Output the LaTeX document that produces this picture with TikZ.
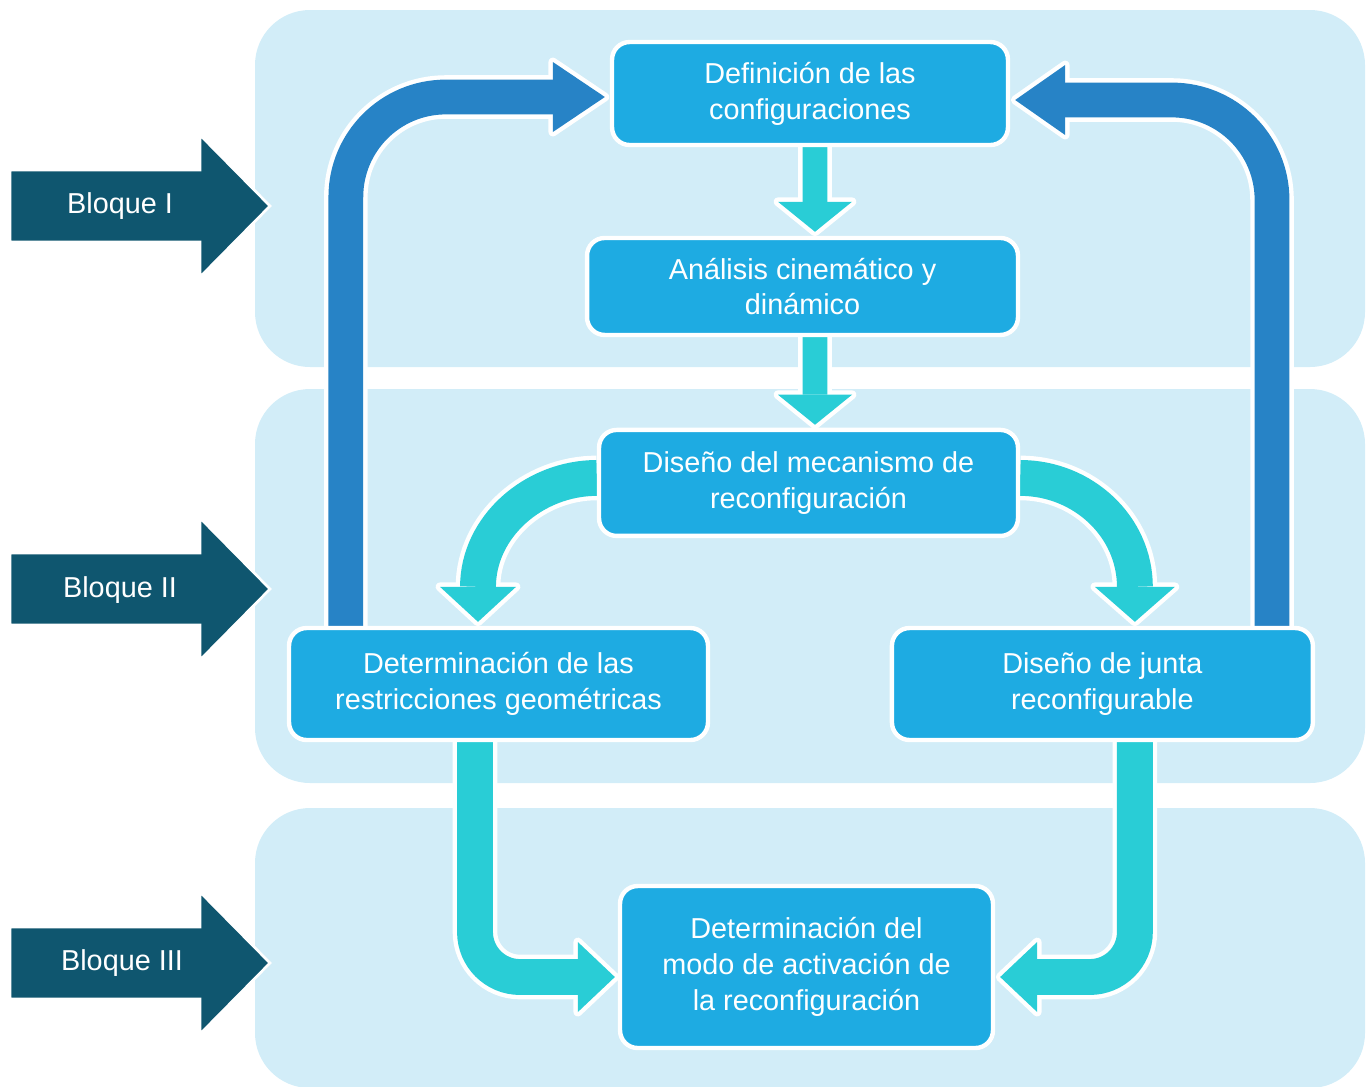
\documentclass[tikz,border=0pt]{standalone}
\usepackage{fontspec}
\setmainfont{Liberation Sans}
\usetikzlibrary{positioning}
\usetikzlibrary{calc}

\definecolor{bandblue}{HTML}{D2EDF8}
\definecolor{boxblue}{HTML}{1EABE2}
\definecolor{loopblue}{HTML}{2783C6}
\definecolor{flowteal}{HTML}{29CDD6}
\definecolor{bloquedark}{HTML}{0F566F}

\pgfdeclarelayer{back}
\pgfdeclarelayer{mid}
\pgfsetlayers{back,mid,main}

% fat arrow: colour, shaft width, shaft path, head path
\newcommand\fatarrow[4]{%
  \draw[white, line width=#2+5pt] #3;
  \filldraw[white, line width=5pt, line join=round] #4;
  \draw[#1, line width=#2] #3;
  \fill[#1] #4;}

\begin{document}
\begin{tikzpicture}[x=0.02cm,y=-0.02cm,
    box/.style={draw=white, line width=2.5pt, fill=boxblue, rounded corners=10pt,
      text=white, align=center, font=\fontsize{16.4}{20.4}\selectfont},
    band/.style={fill=bandblue, rounded corners=1.1cm},
    bloque/.style={text=white, font=\fontsize{16.4}{20.4}\selectfont}]

  \useasboundingbox (0,0) rectangle (1368,1086);

  % steps
  \node[box, minimum width=7.92cm, minimum height=2.06cm] (def) at (810,93.5)
    {Definición de las\\configuraciones};
  \node[box, minimum width=8.62cm, minimum height=1.94cm] (anal)
    [below of=def, node distance=3.86cm, xshift=-0.15cm]
    {Análisis cinemático y\\dinámico};
  \node[box, minimum width=8.38cm, minimum height=2.12cm] (mec)
    [below of=anal, node distance=3.93cm, xshift=0.12cm]
    {Diseño del mecanismo de\\reconfiguración};
  \node[box, minimum width=8.38cm, minimum height=2.24cm] (restr) at (498.5,684)
    {Determinación de las\\restricciones geométricas};
  \node[box, minimum width=8.42cm, minimum height=2.24cm] (junta)
    [right of=restr, node distance=12.08cm]
    {Diseño de junta\\reconfigurable};
  \node[box, minimum width=7.46cm, minimum height=3.24cm] (modo) at (806.5,967)
    {Determinación del\\modo de activación de\\la reconfiguración};

  % blocks
  \node[bloque] (b1) at (120,206) {Bloque I};
  \node[bloque] (b2) at (120,590) {Bloque II};
  \node[bloque] (b3) at (122,963) {Bloque III};

  \begin{pgfonlayer}{back}
    \fill[band] (255,10) rectangle (1365,367);
    \fill[band] (255,389) rectangle (1365,783);
    \fill[band] (255,808) rectangle (1365,1088);
  \end{pgfonlayer}

  \begin{pgfonlayer}{mid}
    \filldraw[fill=bloquedark, draw=white, line width=1.5pt]
      ($(b1)+(-110,-36)$) -- ++(190,0) -- ++(0,-35) -- ++(70,71) -- ++(-70,71) -- ++(0,-35) -- ++(-190,0) -- cycle;
    \filldraw[fill=bloquedark, draw=white, line width=1.5pt]
      ($(b2)+(-110,-37)$) -- ++(190,0) -- ++(0,-35) -- ++(70,71) -- ++(-70,71) -- ++(0,-35) -- ++(-190,0) -- cycle;
    \filldraw[fill=bloquedark, draw=white, line width=1.5pt]
      ($(b3)+(-112,-36)$) -- ++(190,0) -- ++(0,-35) -- ++(70,71) -- ++(-70,71) -- ++(0,-35) -- ++(-190,0) -- cycle;

    % feedback loops
    \fatarrow{loopblue}{19.8pt}
      {[rounded corners=2cm] ($(restr.north west)+(59,0)$) |- ($(def.west)+(-57,3.5)$)}
      {($(def.west)+(-5,3.5)$) -- ++(-52,-35) -- ++(0,70) -- cycle}
    \fatarrow{loopblue}{19.8pt}
      {[rounded corners=2cm] ($(junta.north east)+(-43,0)$) |- ($(def.east)+(55,6.5)$)}
      {($(def.east)+(5,6.5)$) -- ++(50,-35) -- ++(0,70) -- cycle}

    % main flow
    \fatarrow{flowteal}{14.2pt}
      {($(def.south)+(5,0)$) -- ($(anal.north)+(12.5,-34)$)}
      {($(anal.north)+(12.5,-4)$) -- ++(-37,-30) -- ++(74,0) -- cycle}
    \fatarrow{flowteal}{14.2pt}
      {($(anal.south)+(12.5,0)$) -- ($(mec.north)+(6.5,-33)$)}
      {($(mec.north)+(6.5,-3)$) -- ++(-37,-30) -- ++(74,0) -- cycle}
    \fatarrow{flowteal}{20.4pt}
      {($(mec.west)+(0,-5)$) .. controls +(-63,0) and +(0,-60) .. ($(restr.north)+(-20.5,-39)$)}
      {($(restr.north)+(-20.5,-4)$) -- ++(-38,-35) -- ++(76,0) -- cycle}
    \fatarrow{flowteal}{20.4pt}
      {($(mec.east)+(0,-5)$) .. controls +(63,0) and +(0,-60) .. ($(junta.north)+(32.5,-39)$)}
      {($(junta.north)+(32.5,-4)$) -- ++(-40,-35) -- ++(80,0) -- cycle}
    \fatarrow{flowteal}{20.4pt}
      {[rounded corners=0.9cm] ($(restr.south)+(-23.5,0)$) |- ($(modo.west)+(-40,10)$)}
      {($(modo.west)+(-3,10)$) -- ++(-37,-35) -- ++(0,70) -- cycle}
    \fatarrow{flowteal}{20.4pt}
      {[rounded corners=0.9cm] ($(junta.south)+(32.5,0)$) |- ($(modo.east)+(42,10)$)}
      {($(modo.east)+(5,10)$) -- ++(37,-35) -- ++(0,70) -- cycle}
  \end{pgfonlayer}

\end{tikzpicture}
\end{document}
